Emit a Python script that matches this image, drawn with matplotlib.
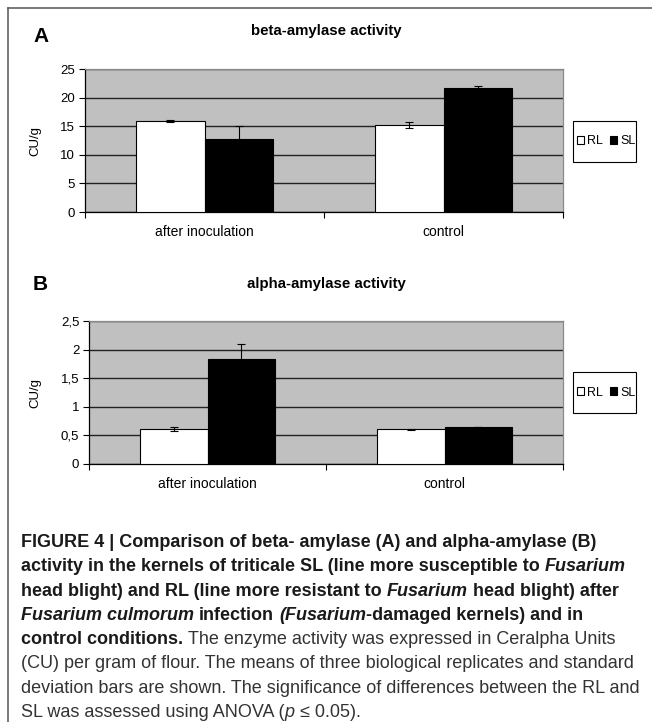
import matplotlib
matplotlib.use("Agg")
import matplotlib.pyplot as plt
from matplotlib.patches import Patch, Rectangle
from matplotlib.lines import Line2D

plt.rcParams['font.family'] = ['Liberation Sans', 'DejaVu Sans']

# data
categories = ['after inoculation', 'control']
series = ['RL', 'SL']

beta_rl = [15.9, 15.2]
beta_rl_sd = [0.2, 0.6]
beta_sl = [12.8, 21.6]
beta_sl_sd = [2.3, 0.35]
beta_ticks = [0, 5, 10, 15, 20, 25]
beta_ticklabels = ['0', '5', '10', '15', '20', '25']

alpha_rl = [0.61, 0.61]
alpha_rl_sd = [0.035, 0.01]
alpha_sl = [1.83, 0.65]
alpha_sl_sd = [0.26, 0.0]
alpha_ticks = [0, 0.5, 1, 1.5, 2, 2.5]
alpha_ticklabels = ['0', '0,5', '1', '1,5', '2', '2,5']

W, H = 652, 722
fig = plt.figure(figsize=(W / 100, H / 100), dpi=100)


def fx(px):
    return px / W


def fy(py):
    return 1 - py / H


def panel(rect, rl, rl_sd, sl, sl_sd, ticks, ticklabels, ylabel_x):
    ax = fig.add_axes(rect)
    ax.set_facecolor('#c0c0c0')
    x = list(range(len(categories)))
    w = 0.2866
    xr = [i - w / 2 for i in x]
    xs = [i + w / 2 for i in x]
    ax.bar(xr, rl, w, color='white', edgecolor='black', linewidth=0.8, zorder=3)
    ax.bar(xs, sl, w, color='black', edgecolor='black', linewidth=0.8, zorder=3)
    ax.errorbar(xr, rl, yerr=rl_sd, fmt='none', ecolor='black', elinewidth=0.8,
                capsize=3, capthick=0.8, zorder=4)
    ax.errorbar(xs, sl, yerr=sl_sd, fmt='none', ecolor='black', elinewidth=0.8,
                capsize=3, capthick=0.8, zorder=4)
    ax.set_xlim(-0.5, len(categories) - 0.5)
    ax.set_ylim(ticks[0], ticks[-1])
    ax.set_yticks(ticks)
    ax.set_yticklabels(ticklabels)
    ax.yaxis.grid(True, color='#222222', linewidth=1.0, zorder=1)
    ax.set_axisbelow(True)
    ax.set_xticks(x)
    ax.set_xticklabels(categories)
    ax.set_xticks([i - 0.5 for i in range(len(categories) + 1)], minor=True)
    ax.tick_params(axis='x', which='major', length=0, pad=9, labelsize=10)
    ax.tick_params(axis='x', which='minor', length=4, width=0.8, direction='out')
    ax.tick_params(axis='y', length=4, width=0.8, direction='out', pad=3, labelsize=9.5)
    for s in ['left', 'bottom']:
        ax.spines[s].set_color('black')
        ax.spines[s].set_linewidth(0.9)
    for s in ['top', 'right']:
        ax.spines[s].set_color('#8a8a8a')
        ax.spines[s].set_linewidth(0.9)
    ax.set_ylabel('CU/g', fontsize=9.5)
    ax.yaxis.set_label_coords(ylabel_x, 0.5)
    return ax


panel([fx(85), fy(212), fx(563) - fx(85), 143 / H],
      beta_rl, beta_rl_sd, beta_sl, beta_sl_sd, beta_ticks, beta_ticklabels, -0.092)
panel([fx(89), fy(464), fx(563) - fx(89), 143 / H],
      alpha_rl, alpha_rl_sd, alpha_sl, alpha_sl_sd, alpha_ticks, alpha_ticklabels, -0.101)

# panel titles and letters
fig.text(fx(326), fy(31), 'beta-amylase activity', ha='center', va='center',
         fontsize=10.8, fontweight='bold')
fig.text(fx(326), fy(284), 'alpha-amylase activity', ha='center', va='center',
         fontsize=10.8, fontweight='bold')
fig.text(fx(33), fy(36), 'A', ha='left', va='center', fontsize=15, fontweight='bold')
fig.text(fx(33), fy(285), 'B', ha='left', va='center', fontsize=15, fontweight='bold')

# legends with hand drawn boxes
handles = [Patch(facecolor='white', edgecolor='black', linewidth=0.8, label=series[0]),
           Patch(facecolor='black', edgecolor='black', linewidth=0.8, label=series[1])]
for top in [121, 372]:
    fig.add_artist(Rectangle((fx(573), fy(top + 41)), fx(636) - fx(573), 41 / H,
                             transform=fig.transFigure, facecolor='white',
                             edgecolor='black', linewidth=0.8))
    fig.legend(handles=handles, ncol=2, frameon=False, fontsize=9,
               loc='center left', bbox_to_anchor=(fx(577), fy(top + 20.5)),
               borderpad=0, borderaxespad=0, handlelength=0.55, handleheight=0.55,
               handletextpad=0.25, columnspacing=0.6)

# outer frame
fig.add_artist(Line2D([fx(8), 1], [fy(8), fy(8)], color='#555555', linewidth=1.1))
fig.add_artist(Line2D([fx(8), fx(8)], [fy(8), 0], color='#555555', linewidth=1.1))

# caption, drawn run by run so bold / italic can mix on a line
B, R = '#1a1a1a', '#333333'
caption = [
    [('FIGURE 4 | Comparison of beta- amylase (A) and alpha-amylase (B)', 'bold', 'normal', B)],
    [('activity in the kernels of triticale SL (line more susceptible to ', 'bold', 'normal', B),
     ('Fusarium', 'bold', 'italic', B)],
    [('head blight) and RL (line more resistant to ', 'bold', 'normal', B),
     ('Fusarium', 'bold', 'italic', B), (' head blight) after', 'bold', 'normal', B)],
    [('Fusarium culmorum', 'bold', 'italic', B), (' infection ', 'bold', 'normal', B),
     ('(Fusarium', 'bold', 'italic', B), ('-damaged kernels) and in', 'bold', 'normal', B)],
    [('control conditions.', 'bold', 'normal', B),
     (' The enzyme activity was expressed in Ceralpha Units', 'normal', 'normal', R)],
    [('(CU) per gram of flour. The means of three biological replicates and standard', 'normal', 'normal', R)],
    [('deviation bars are shown. The significance of differences between the RL and', 'normal', 'normal', R)],
    [('SL was assessed using ANOVA (', 'normal', 'normal', R), ('p', 'normal', 'italic', R),
     (' \u2264 0.05).', 'normal', 'normal', R)],
]

renderer = fig.canvas.get_renderer()
cap_size = 13


def text_width(s, weight, style):
    t = fig.text(0, 0, s, fontsize=cap_size, fontweight=weight, fontstyle=style)
    w = t.get_window_extent(renderer).width
    t.remove()
    return w


for k, line in enumerate(caption):
    xpx = 21
    ybase = 547 + k * 24.3
    for s, weight, style, color in line:
        sp = text_width('x x', weight, style) - text_width('xx', weight, style)
        lead = len(s) - len(s.lstrip(' '))
        trail = len(s) - len(s.rstrip(' '))
        core = s.strip(' ')
        xpx += lead * sp
        t = fig.text(fx(xpx), fy(ybase), core, fontsize=cap_size, fontweight=weight,
                     fontstyle=style, color=color, ha='left', va='baseline')
        xpx += t.get_window_extent(renderer).width + trail * sp

fig.savefig('out.png', dpi=100)
